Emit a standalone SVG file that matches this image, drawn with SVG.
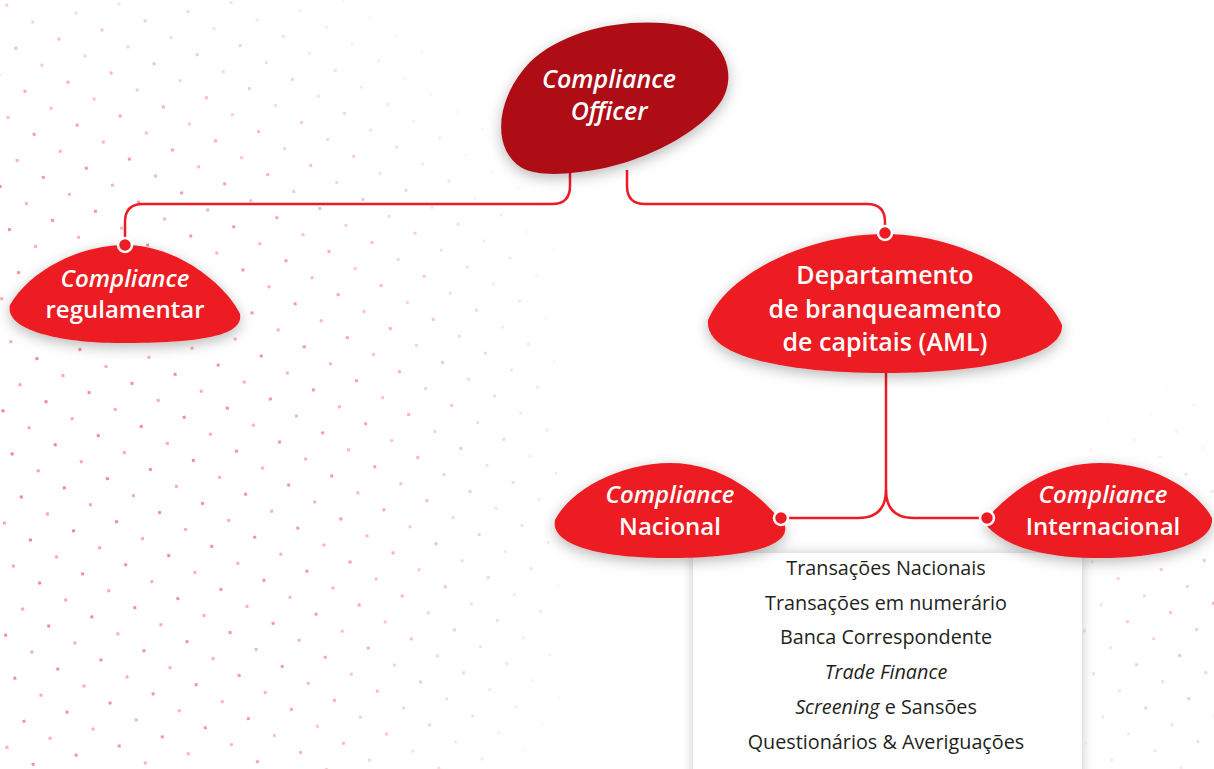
<svg xmlns="http://www.w3.org/2000/svg" width="1214" height="769" viewBox="0 0 1214 769">
<style>
.node-text{font-family:"Open Sans","Noto Sans",sans-serif;font-weight:600;fill:#ffffff;text-anchor:middle}
.it{font-style:italic}
.list{font-family:"Open Sans","Noto Sans",sans-serif;font-weight:400;fill:#231f20;text-anchor:middle;font-size:19.8px}
.conn{fill:none;stroke:#ED1C24;stroke-width:2.5}
.dot{fill:#ED1C24;stroke:#ffffff;stroke-width:2.5}
.blob{fill:#ED1C24}
</style>
<defs>
<filter id="sh" x="-20%" y="-20%" width="140%" height="150%">
<feDropShadow dx="0" dy="4" stdDeviation="7" flood-color="#000" flood-opacity="0.28"/>
</filter>
<filter id="shbox" x="-10%" y="-10%" width="120%" height="130%">
<feDropShadow dx="0" dy="0" stdDeviation="6" flood-color="#000" flood-opacity="0.22"/>
</filter>
<pattern id="dots" width="44" height="44" patternUnits="userSpaceOnUse" patternTransform="rotate(-12)">
<rect x="4" y="5" width="3" height="3" fill="#ED1C24" opacity="0.55"/>
<rect x="26" y="27" width="3" height="3" fill="#ED1C24" opacity="0.4"/>
</pattern>
<radialGradient id="fadeL" cx="0" cy="480" r="620" gradientUnits="userSpaceOnUse">
<stop offset="0" stop-color="#fff" stop-opacity="1"/>
<stop offset="0.55" stop-color="#fff" stop-opacity="0.8"/>
<stop offset="1" stop-color="#fff" stop-opacity="0"/>
</radialGradient>
<radialGradient id="fadeR" cx="1214" cy="620" r="250" gradientUnits="userSpaceOnUse">
<stop offset="0" stop-color="#fff" stop-opacity="0.6"/>
<stop offset="1" stop-color="#fff" stop-opacity="0"/>
</radialGradient>
<mask id="mL"><rect width="1214" height="769" fill="url(#fadeL)"/></mask>
<mask id="mR"><rect width="1214" height="769" fill="url(#fadeR)"/></mask>
</defs>
<rect width="1214" height="769" fill="#ffffff"/>
<g id="background">
<rect x="0" y="0" width="560" height="769" fill="url(#dots)" mask="url(#mL)"/>
<rect x="1060" y="300" width="154" height="469" fill="url(#dots)" mask="url(#mR)"/>
</g>
<g id="list-box">
<rect x="693" y="553" width="389" height="230" fill="#ffffff" filter="url(#shbox)"/>
<text class="list" x="886" y="575">Transações Nacionais</text>
<text class="list" x="886" y="610">Transações em numerário</text>
<text class="list" x="886" y="644">Banca Correspondente</text>
<text class="list it" x="886" y="679">Trade Finance</text>
<text class="list" x="886" y="714"><tspan font-style="italic">Screening</tspan> e Sansões</text>
<text class="list" x="886" y="749">Questionários &amp; Averiguações</text>
</g>
<g id="connectors">
<path class="conn" d="M570,170 V186 Q570,204 552,204 H143 Q125,204 125,222 V245"/>
<path class="conn" d="M627,170 V186 Q627,204 645,204 H867 Q885,204 885,222 V233"/>
<path class="conn" d="M886,372 V490 Q886,518 858,518 H781"/>
<path class="conn" d="M886,490 Q886,518 914,518 H987"/>
</g>
<g id="node-officer">
<path d="M522,168 C492,150 494,100 530,62 C566,28 632,16 684,26 C724,36 738,74 722,100 C702,132 640,166 580,172 C556,175 536,175 522,168 Z" fill="#AF1118" filter="url(#sh)"/>
<text class="node-text it" x="609" y="88" font-size="25">Compliance</text>
<text class="node-text it" x="609" y="120" font-size="25">Officer</text>
</g>
<g id="node-regulamentar">
<path class="blob" d="M10,305 C30,270 80,245 125,245 C178,245 226,285 240,314 C244,336 200,343 120,343 C60,343 4,330 10,305 Z" filter="url(#sh)"/>
<text class="node-text it" x="125" y="287" font-size="24">Compliance</text>
<text class="node-text" x="125" y="318" font-size="24">regulamentar</text>
<circle class="dot" cx="125" cy="245" r="7"/>
</g>
<g id="node-aml">
<path class="blob" d="M708,320 C728,272 810,234 885,234 C962,234 1042,280 1062,325 C1064,362 960,373 885,373 C800,373 704,360 708,320 Z" filter="url(#sh)"/>
<text class="node-text" x="885" y="284" font-size="25">Departamento</text>
<text class="node-text" x="885" y="318" font-size="25">de branqueamento</text>
<text class="node-text" x="885" y="351" font-size="25">de capitais (AML)</text>
<circle class="dot" cx="885" cy="233" r="7"/>
</g>
<g id="node-nacional">
<path class="blob" d="M555,520 C570,490 620,463 670,463 C722,463 762,495 785,526 C790,550 730,558 670,558 C600,558 550,545 555,520 Z" filter="url(#sh)"/>
<text class="node-text it" x="670" y="503" font-size="24">Compliance</text>
<text class="node-text" x="670" y="535" font-size="24">Nacional</text>
<circle class="dot" cx="781" cy="518" r="7"/>
</g>
<g id="node-internacional">
<path class="blob" d="M984,522 C1010,490 1050,463 1100,463 C1160,463 1200,495 1212,518 C1214,545 1160,558 1100,558 C1040,558 1000,545 984,522 Z" filter="url(#sh)"/>
<text class="node-text it" x="1103" y="503" font-size="24">Compliance</text>
<text class="node-text" x="1103" y="535" font-size="24">Internacional</text>
<circle class="dot" cx="987" cy="518" r="7"/>
</g>
</svg>
